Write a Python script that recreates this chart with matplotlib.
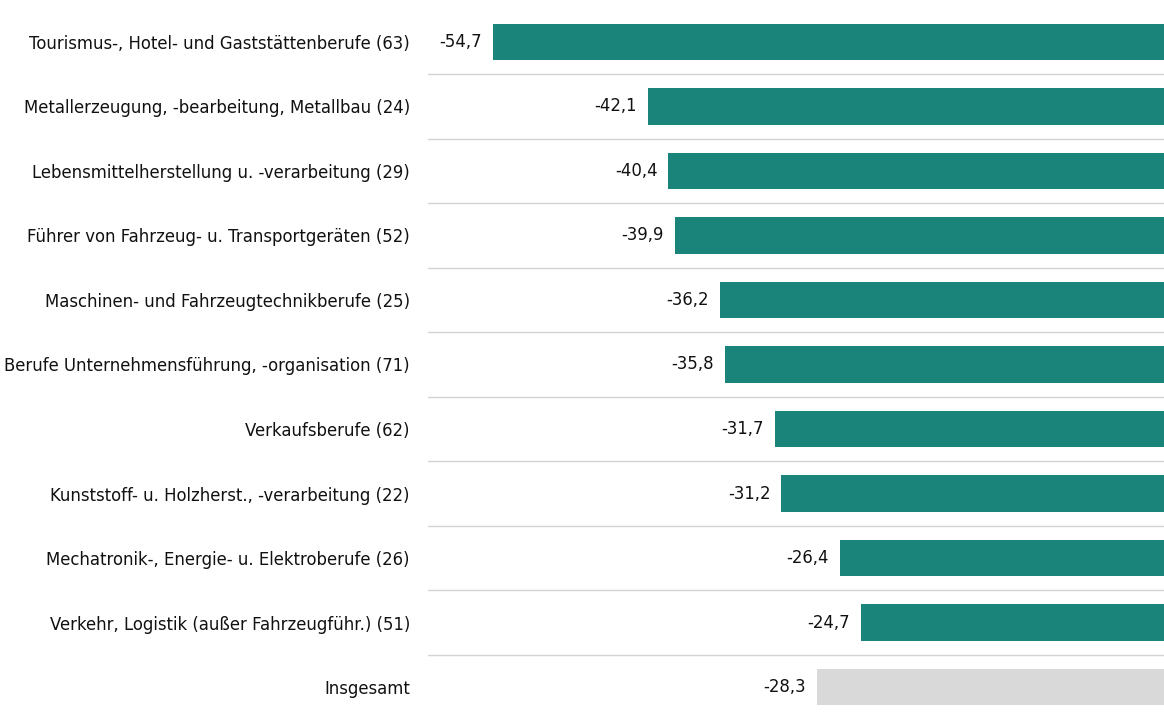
import matplotlib.pyplot as plt
from matplotlib.transforms import offset_copy

plt.rcParams['font.family'] = ['DejaVu Sans']

categories = [
    "Tourismus-, Hotel- und Gaststättenberufe (63)",
    "Metallerzeugung, -bearbeitung, Metallbau (24)",
    "Lebensmittelherstellung u. -verarbeitung (29)",
    "Führer von Fahrzeug- u. Transportgeräten (52)",
    "Maschinen- und Fahrzeugtechnikberufe (25)",
    "Berufe Unternehmensführung, -organisation (71)",
    "Verkaufsberufe (62)",
    "Kunststoff- u. Holzherst., -verarbeitung (22)",
    "Mechatronik-, Energie- u. Elektroberufe (26)",
    "Verkehr, Logistik (außer Fahrzeugführ.) (51)",
    "Insgesamt",
]
values = [-54.7, -42.1, -40.4, -39.9, -36.2, -35.8, -31.7, -31.2, -26.4, -24.7, -28.3]
colors = ["#1a837a"] * 10 + ["#d9d9d9"]

fig = plt.figure(figsize=(11.64, 7.13), dpi=100)
ax = fig.add_axes([428 / 1164, 0, 1 - 428 / 1164, 1])

pos = list(range(len(categories)))
ax.barh(pos, values, height=0.56, color=colors)

for i in range(len(categories) - 1):
    ax.axhline(i + 0.5, color="#d4d4d4", linewidth=1)

tr = offset_copy(ax.transData, fig=fig, x=-11, y=0, units="dots")
for p, v in zip(pos, values):
    ax.text(v, p, f"{v:.1f}".replace(".", ","), transform=tr,
            ha="right", va="center", fontsize=11.9, color="#111111")

ax.set_xlim(-60, 0)
ax.set_ylim(10.403, -0.651)
ax.set_yticks(pos)
ax.set_yticklabels(categories, fontsize=11.9, color="#111111")
ax.tick_params(axis="y", length=0, pad=13)
ax.set_xticks([])
for s in ax.spines.values():
    s.set_visible(False)

fig.savefig("out.png", dpi=100)
